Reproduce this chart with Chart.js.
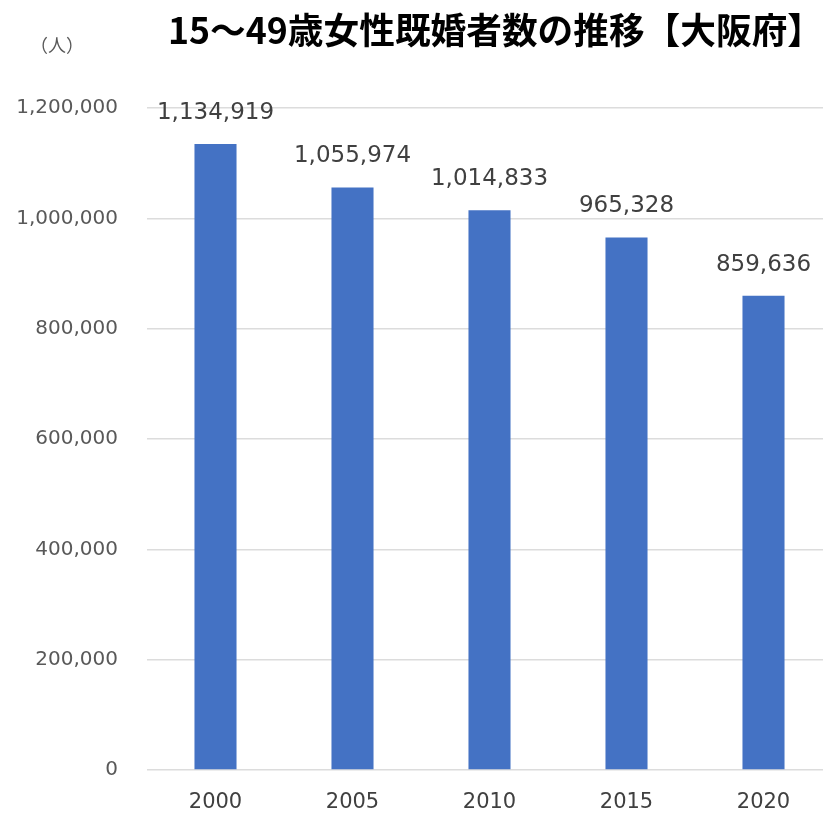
<!DOCTYPE html>
<html lang="ja">
<head>
<meta charset="utf-8">
<title>15～49歳女性既婚者数の推移【大阪府】</title>
<script src="https://cdn.jsdelivr.net/npm/chart.js@4/dist/chart.umd.min.js"></script>
<style>
  html, body { margin: 0; padding: 0; background: #fff; overflow: hidden; }
  #wrap { width: 832px; height: 815px; }
</style>
</head>
<body>
<div id="wrap"><canvas id="chart" width="832" height="815"></canvas></div>
<script>
const TITLE = "15～49歳女性既婚者数の推移【大阪府】";
const UNIT = "（人）";
const years = ["2000", "2005", "2010", "2015", "2020"];
const married = [1134919, 1055974, 1014833, 965328, 859636];
const yTicks = [0, 200000, 400000, 600000, 800000, 1000000, 1200000];

const BAR_COLOR = "#4472c4";
const GRID_COLOR = "#dcdcdc";
const TEXT_COLOR = "#595959";

const fmt = (v) => Number(v).toLocaleString("en-US");

// title, unit label and value labels drawn onto the canvas
const decorations = {
  id: "decorations",
  afterDatasetsDraw(chart) {
    const ctx = chart.ctx;
    ctx.save();

    ctx.fillStyle = "#000";
    ctx.font = "bold 36px 'Noto Sans CJK JP', sans-serif";
    ctx.textAlign = "left";
    ctx.textBaseline = "middle";
    ctx.fillText(TITLE, 168, 30, 655);

    ctx.fillStyle = TEXT_COLOR;
    ctx.font = "18px 'Noto Sans CJK JP', sans-serif";
    ctx.fillText(UNIT, 30, 45);

    ctx.fillStyle = "#404040";
    ctx.font = "23px 'DejaVu Sans', sans-serif";
    ctx.textAlign = "center";
    const meta = chart.getDatasetMeta(0);
    meta.data.forEach((bar, i) => {
      ctx.fillText(fmt(married[i]), bar.x, bar.y - 31);
    });
    ctx.restore();
  },
};

new Chart(document.getElementById("chart"), {
  type: "bar",
  data: {
    labels: years,
    datasets: [{
      data: married,
      backgroundColor: BAR_COLOR,
      barPercentage: 0.307,
      categoryPercentage: 1,
    }],
  },
  options: {
    responsive: false,
    animation: false,
    layout: { padding: { top: 108, left: 0, right: 0, bottom: 0 } },
    plugins: {
      legend: { display: false },
      tooltip: { enabled: false },
    },
    scales: {
      x: {
        grid: { display: false },
        border: { display: false },
        ticks: {
          color: "#404040",
          font: { family: "'DejaVu Sans', sans-serif", size: 21 },
          padding: 12,
        },
        afterFit: (s) => { s.height = 45; },
      },
      y: {
        min: 0,
        max: 1200000,
        afterBuildTicks: (s) => { s.ticks = yTicks.map((v) => ({ value: v })); },
        grid: { color: GRID_COLOR, lineWidth: 1.5, drawTicks: false },
        border: { display: false },
        ticks: {
          color: TEXT_COLOR,
          font: { family: "'DejaVu Sans', sans-serif", size: 20 },
          padding: 29,
          callback: (v) => fmt(v),
        },
        afterFit: (s) => { s.width = 147; },
      },
    },
  },
  plugins: [decorations],
});
</script>
</body>
</html>
